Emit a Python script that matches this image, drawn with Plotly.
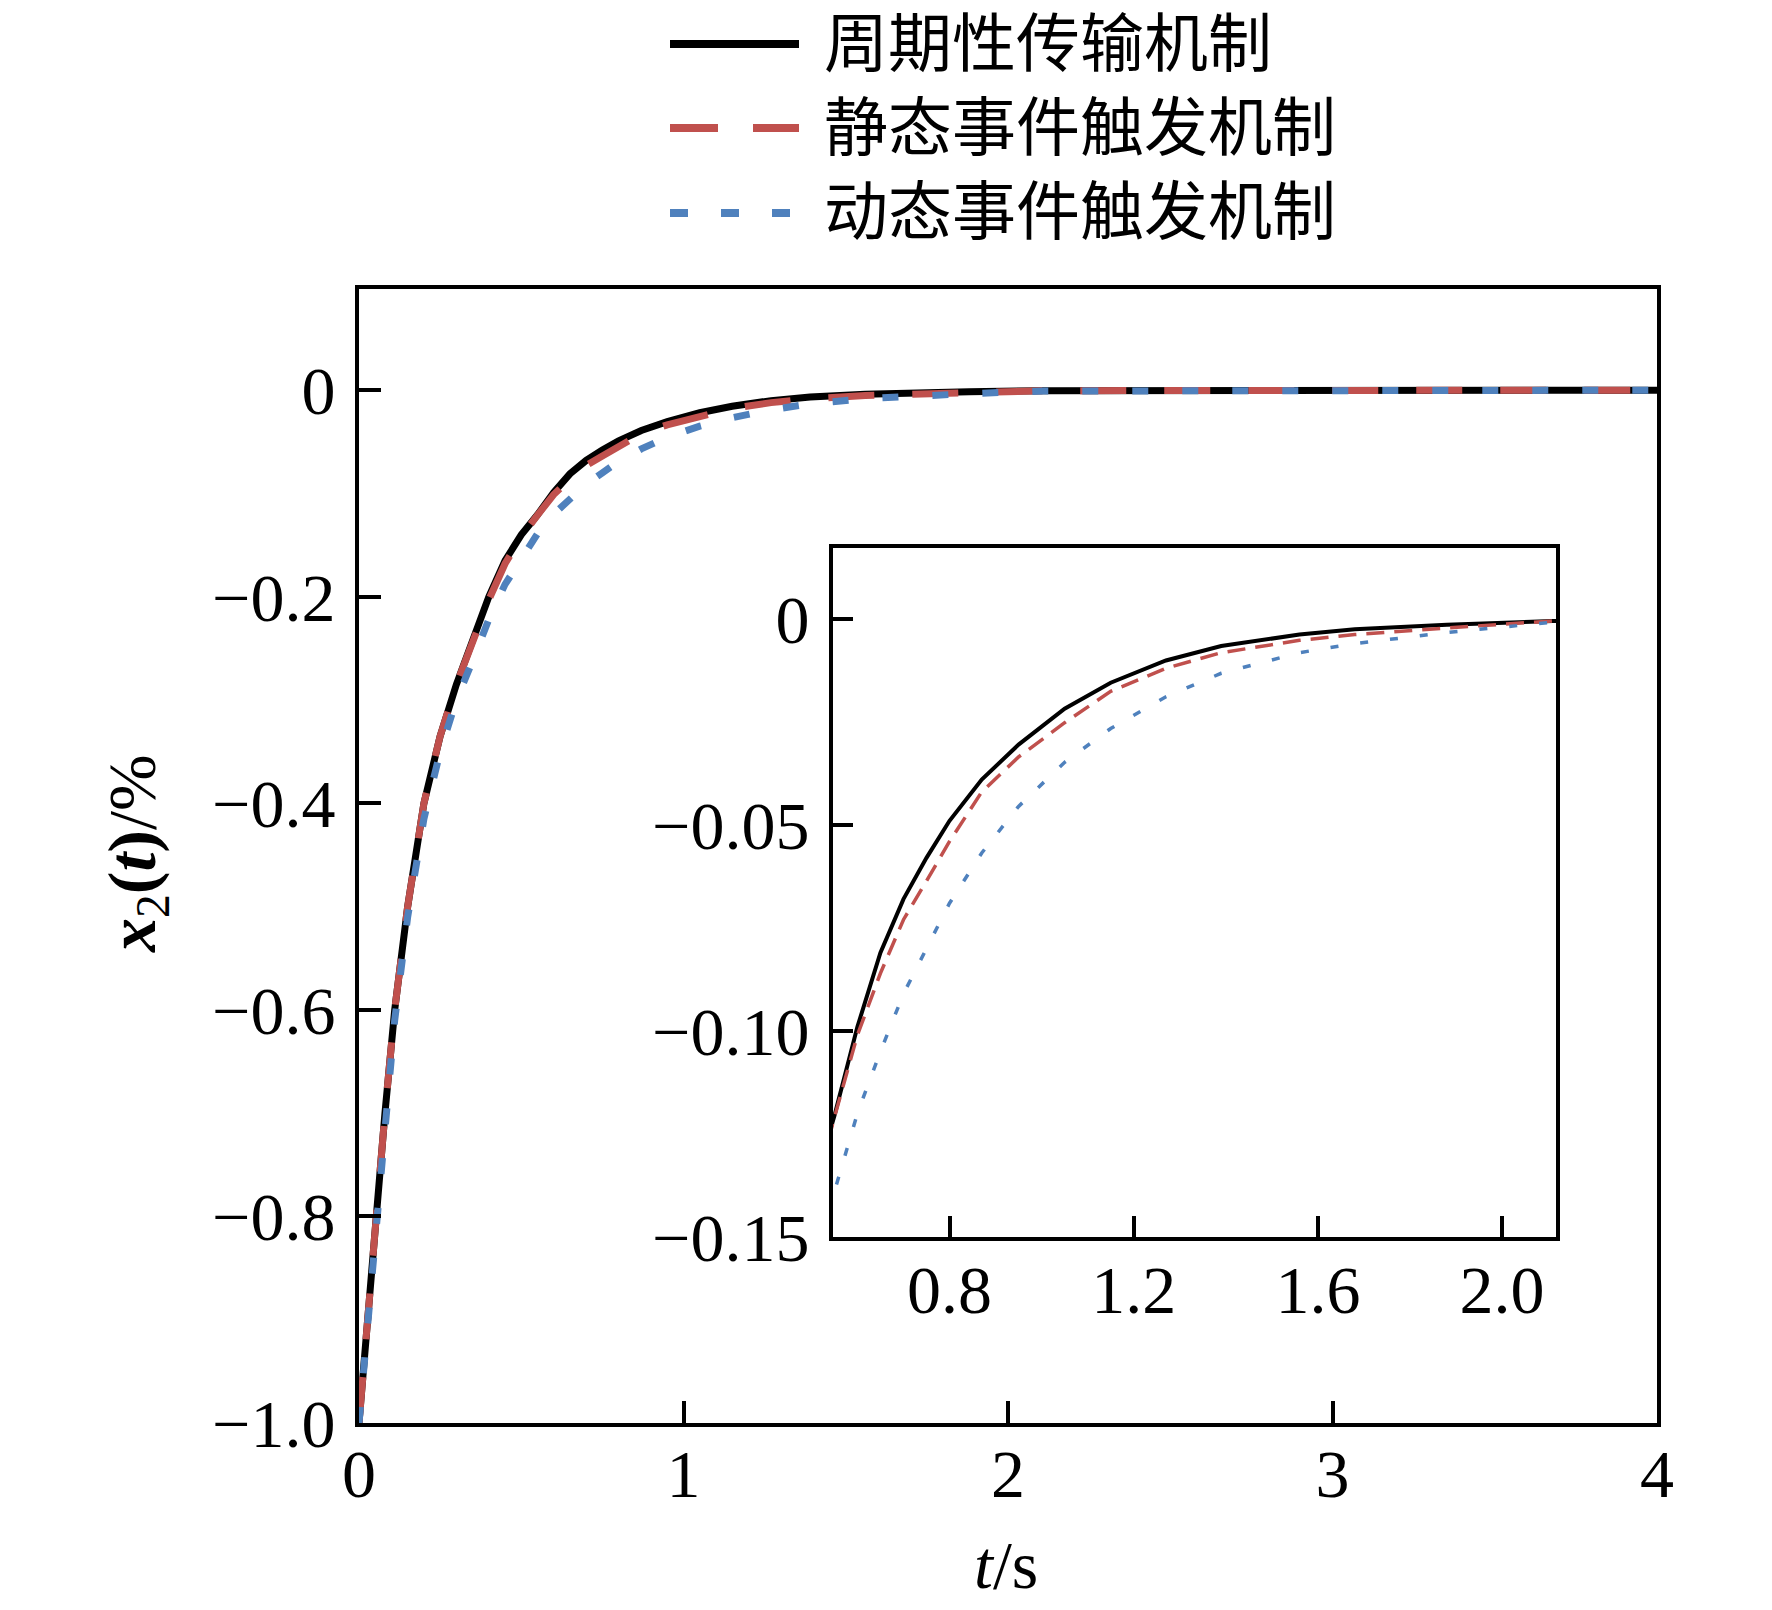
import plotly.graph_objects as go

# time samples (s) and the three responses x2(t) in %
t = [0, 0.02, 0.05, 0.08, 0.11, 0.15, 0.20, 0.25, 0.30, 0.35, 0.40, 0.45, 0.50,
     0.55, 0.60, 0.65, 0.70, 0.75, 0.80, 0.87, 0.95, 1.05, 1.15, 1.27, 1.39,
     1.56, 1.68, 1.88, 2.11, 2.5, 3.0, 3.5, 4.0]

periodic = [-1.0, -0.92, -0.81, -0.70, -0.60, -0.50, -0.40, -0.335, -0.285, -0.24,
            -0.20, -0.165, -0.140, -0.1206, -0.099, -0.081, -0.068, -0.058, -0.049,
            -0.039, -0.0305, -0.0218, -0.0155, -0.0101, -0.0066, -0.0038, -0.0025,
            -0.0014, -0.0005, -0.0002, -0.0001, 0.0, 0.0]

static_et = [-1.0, -0.92, -0.81, -0.70, -0.60, -0.50, -0.40, -0.335, -0.285, -0.242,
             -0.203, -0.168, -0.142, -0.121, -0.101, -0.086, -0.073, -0.0636, -0.054,
             -0.042, -0.0335, -0.0252, -0.0176, -0.012, -0.0082, -0.0052, -0.0038,
             -0.0022, -0.0005, -0.0003, -0.0002, -0.0001, 0.0]

dynamic_et = [-1.0, -0.93, -0.82, -0.71, -0.61, -0.51, -0.415, -0.35, -0.30, -0.262,
              -0.222, -0.188, -0.162, -0.139, -0.120, -0.105, -0.091, -0.080, -0.069,
              -0.0568, -0.0455, -0.0348, -0.0266, -0.0189, -0.0132, -0.0082, -0.0060,
              -0.0033, -0.0008, -0.0004, -0.0002, -0.0001, 0.0]

names = ["周期性传输机制", "静态事件触发机制", "动态事件触发机制"]

main_xticks = [0, 1, 2, 3, 4]
main_xlabels = ["0", "1", "2", "3", "4"]
main_yticks = [0, -0.2, -0.4, -0.6, -0.8, -1.0]
main_ylabels = ["0", "\u22120.2", "\u22120.4", "\u22120.6", "\u22120.8", "\u22121.0"]
inset_xticks = [0.8, 1.2, 1.6, 2.0]
inset_xlabels = ["0.8", "1.2", "1.6", "2.0"]
inset_yticks = [0, -0.05, -0.10, -0.15]
inset_ylabels = ["0", "\u22120.05", "\u22120.10", "\u22120.15"]

W, H = 1772, 1610
OFF = 8  # page margin around the plot div


def px(x):
    return (x - OFF) / W


def py(y):
    return 1 - (y - OFF) / H


BLACK = "#000000"
RED = "#C0504D"
BLUE = "#4F81BD"
FONT = "Liberation Serif, Times New Roman, Noto Sans CJK SC, serif"
FS = 68

series = [
    (periodic, BLACK, "solid", "solid", "solid"),
    (static_et, RED, "46px,38px", "18px,10px", "48px,35px"),
    (dynamic_et, BLUE, "16px,34px", "8px,22px", "18px,33px"),
]

fig = go.Figure()

# main axes
for (y, col, dmain, dinset, dleg), name in zip(series, names):
    fig.add_trace(go.Scatter(x=t, y=y, mode="lines", name=name, showlegend=False,
                             line=dict(color=col, width=7, dash=dmain),
                             xaxis="x", yaxis="y"))
# inset axes
for (y, col, dmain, dinset, dleg), name in zip(series, names):
    fig.add_trace(go.Scatter(x=t, y=y, mode="lines", name=name, showlegend=False,
                             line=dict(color=col, width=4 if col == BLACK else 3.5, dash=dinset),
                             xaxis="x2", yaxis="y2"))

axis_common = dict(showline=True, linecolor="black", linewidth=4, mirror=True,
                   ticks="inside", tickwidth=4, tickcolor="black",
                   showgrid=False, zeroline=False, automargin=False,
                   tickfont=dict(family=FONT, size=FS, color="black"))

fig.update_layout(
    template="none",
    width=W, height=H, autosize=False,
    margin=dict(l=0, r=0, t=0, b=0, pad=0),
    paper_bgcolor="white", plot_bgcolor="white",
    showlegend=False,
    xaxis=dict(domain=[px(359), px(1657)], range=[0, 4], anchor="y",
               tickvals=main_xticks, ticktext=main_xlabels, ticklen=22,
               ticklabelstandoff=-12, **axis_common),
    yaxis=dict(domain=[py(1423), py(289)], range=[-1.0, 0.098], anchor="x",
               tickvals=main_yticks, ticktext=main_ylabels, ticklen=22,
               ticklabelstandoff=6, **axis_common),
    xaxis2=dict(domain=[px(833), px(1556)], range=[0.547, 2.117], anchor="y2",
                tickvals=inset_xticks, ticktext=inset_xlabels, ticklen=21,
                ticklabelstandoff=-10, **axis_common),
    yaxis2=dict(domain=[py(1237), py(548)], range=[-0.15, 0.0172], anchor="x2",
                tickvals=inset_yticks, ticktext=inset_ylabels, ticklen=20,
                ticklabelstandoff=6, **axis_common),
)

# axis titles
fig.add_annotation(x=px(1006), y=py(1565), xref="paper", yref="paper",
                   xanchor="center", yanchor="middle",
                   text="<i>t</i>/s", showarrow=False,
                   font=dict(family=FONT, size=FS, color="black"))
fig.add_annotation(x=px(136), y=py(853), xref="paper", yref="paper",
                   xanchor="center", yanchor="middle",
                   text="<b><i>x</i></b><sub>2</sub><b>(<i>t</i>)</b>/%", textangle=-90,
                   showarrow=False, font=dict(family=FONT, size=FS, color="black"))

# legend drawn above the frame with long line samples
rows = [44, 128, 213]
for (y, col, dmain, dinset, dleg), name, ry in zip(series, names, rows):
    fig.add_shape(type="line", xref="paper", yref="paper",
                  x0=px(670), x1=px(799), y0=py(ry), y1=py(ry),
                  line=dict(color=col, width=8, dash=dleg))
    fig.add_annotation(x=px(822), y=py(ry), xref="paper", yref="paper",
                       xanchor="left", yanchor="middle", text=name, showarrow=False,
                       font=dict(family=FONT, size=64, color="black"))

fig.write_html("out.html")
